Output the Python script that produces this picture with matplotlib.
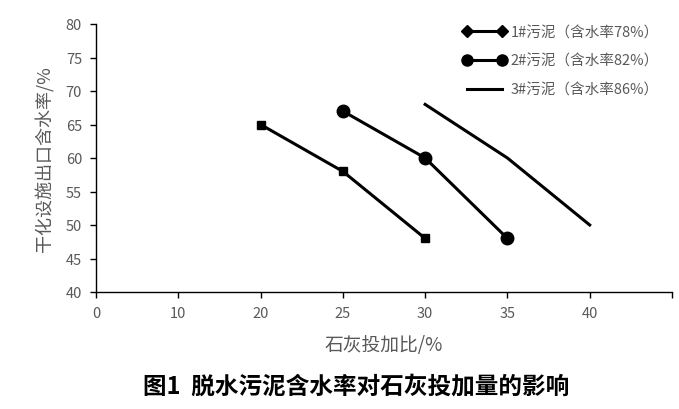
import matplotlib.pyplot as plt
from matplotlib.lines import Line2D

plt.rcParams['font.family'] = ['Noto Sans CJK SC', 'DejaVu Sans']

# category axis (equally spaced slots, like the original spreadsheet chart)
x_labels = ['0', '10', '20', '25', '30', '35', '40', '']

# lime dose ratio (%) and dry-out moisture (%) for each sludge
s1_x = ['20', '25', '30']
s1_y = [65, 58, 48]
s2_x = ['25', '30', '35']
s2_y = [67, 60, 48]
s3_x = ['30', '35', '40']
s3_y = [68, 60, 50]

names = ['1#污泥（含水率78%）', '2#污泥（含水率82%）', '3#污泥（含水率86%）']

gray = '#595959'

def pos(labels):
    return [x_labels.index(v) for v in labels]

fig = plt.figure(figsize=(6.79, 4.10), dpi=100)
ax = fig.add_axes([96 / 679, 1 - 293 / 410, 576 / 679, 268 / 410])

ax.plot(pos(s1_x), s1_y, color='black', lw=2.2, marker='s', ms=6)
ax.plot(pos(s2_x), s2_y, color='black', lw=2.2, marker='o', ms=9)
ax.plot(pos(s3_x), s3_y, color='black', lw=2.2)

ax.set_xlim(0, 7)
ax.set_xticks(range(len(x_labels)))
ax.set_xticklabels(x_labels)
ax.set_ylim(40, 80)
ax.set_yticks(range(40, 81, 5))

for s in ['top', 'right']:
    ax.spines[s].set_visible(False)
for s in ['left', 'bottom']:
    ax.spines[s].set_linewidth(1.0)
ax.tick_params(direction='out', length=4, width=1, labelsize=10.5, colors='black',
               labelcolor=gray, pad=6)

ax.set_xlabel('石灰投加比/%', fontsize=13.5, color=gray, labelpad=10)
ax.set_ylabel('干化设施出口含水率/%', fontsize=13, color=gray, labelpad=8)

handles = [
    Line2D([], [], color='black', lw=2.2, marker='D', ms=6),
    Line2D([], [], color='black', lw=2.2, marker='o', ms=8),
    Line2D([], [], color='black', lw=2.2),
]
leg = ax.legend(handles, names, loc='upper right', bbox_to_anchor=(1.0, 1.045),
                frameon=False, numpoints=2, fontsize=10.5, handlelength=3.0,
                handletextpad=0.3, labelspacing=1.0, labelcolor=gray)

fig.text(0.525, 0.057, '图1  脱水污泥含水率对石灰投加量的影响', ha='center', va='center',
         fontsize=17, fontweight='bold', color='black')

fig.savefig('out.png', dpi=100)
